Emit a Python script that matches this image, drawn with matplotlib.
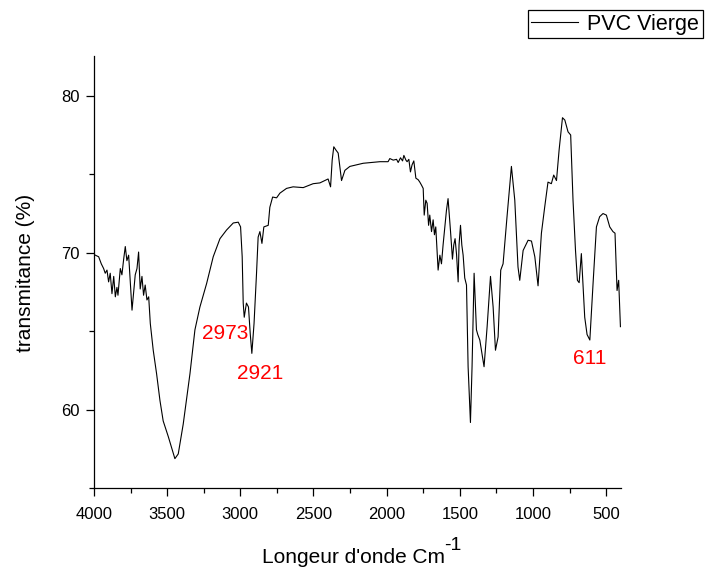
import matplotlib
matplotlib.use("Agg")
import matplotlib.pyplot as plt
from matplotlib.ticker import MultipleLocator

plt.rcParams['font.family'] = ['Liberation Sans', 'DejaVu Sans']

# spectrum: wavenumber (cm-1) and transmittance (%)
wavenumber = [
    4000, 3991, 3968, 3950, 3934, 3923, 3911, 3900, 3889, 3877, 3865, 3854,
    3843, 3836, 3820, 3809, 3797, 3786, 3775, 3763, 3752, 3740, 3729, 3718,
    3706, 3695, 3684, 3672, 3661, 3650, 3638, 3626, 3615, 3595, 3572, 3549,
    3527, 3492, 3447, 3424, 3390, 3344, 3310, 3276, 3230, 3185, 3139, 3094,
    3048, 3014, 2998, 2987, 2980, 2973, 2958, 2944, 2932, 2921, 2906, 2889,
    2878, 2866, 2852, 2839, 2809, 2798, 2779, 2752, 2729, 2684, 2639, 2570,
    2502, 2456, 2400, 2383, 2372, 2361, 2347, 2331, 2308, 2285, 2251, 2160,
    2046, 1990, 1978, 1955, 1932, 1921, 1905, 1891, 1882, 1868, 1860, 1848,
    1837, 1826, 1814, 1800, 1784, 1773, 1761, 1750, 1743, 1732, 1723, 1713,
    1705, 1693, 1682, 1673, 1664, 1648, 1636, 1625, 1614, 1591, 1580, 1573,
    1563, 1550, 1541, 1532, 1522, 1511, 1505, 1495, 1486, 1477, 1466, 1454,
    1443, 1427, 1416, 1402, 1386, 1377, 1363, 1334, 1313, 1290, 1272, 1256,
    1238, 1220, 1204, 1177, 1147, 1124, 1102, 1090, 1067, 1033, 1010, 987,
    965, 942, 919, 897, 874, 858, 839, 821, 798, 782, 760, 742, 726, 709,
    696, 684, 669, 646, 630, 611, 589, 566, 544, 521, 498, 475, 453, 439,
    425, 414, 402,
]
transmittance = [
    69.9, 69.85, 69.75, 69.3, 69.0, 68.7, 68.9, 68.15, 68.7, 67.4, 68.5, 67.2,
    67.8, 67.3, 69.0, 68.6, 69.6, 70.4, 69.5, 69.85, 68.15, 66.35, 67.5, 68.6,
    69.0, 70.05, 67.7, 68.5, 67.3, 67.95, 67.0, 67.2, 65.5, 63.8, 62.3, 60.6,
    59.3, 58.3, 56.9, 57.2, 59.1, 62.3, 65.1, 66.55, 68.05, 69.75, 70.9, 71.45,
    71.9, 71.95, 71.65, 69.75, 66.8, 65.9, 66.8, 66.55, 64.85, 63.6, 65.5, 68.7,
    71.0, 71.35, 70.6, 71.65, 71.75, 72.9, 73.55, 73.5, 73.8, 74.1, 74.2, 74.15,
    74.4, 74.45, 74.7, 74.2, 75.9, 76.75, 76.55, 76.35, 74.6, 75.25, 75.5, 75.7,
    75.8, 75.8, 76.0, 75.9, 75.95, 75.75, 76.05, 75.85, 76.2, 75.9, 75.8, 75.95,
    75.15, 75.6, 75.85, 74.75, 74.65, 74.5, 74.3, 74.1, 72.4, 73.35, 73.15, 71.75,
    72.4, 71.35, 72.1, 71.15, 71.65, 68.9, 69.85, 69.3, 70.5, 72.7, 73.45, 72.6,
    71.35, 69.6, 70.5, 70.9, 69.9, 68.15, 70.5, 71.75, 70.5, 69.85, 68.4, 67.95,
    62.75, 59.2, 62.75, 68.7, 65.1, 64.8, 64.45, 62.75, 65.3, 68.5, 66.55, 63.8,
    64.65, 68.9, 69.3, 72.3, 75.5, 73.35, 69.1, 68.25, 70.15, 70.8, 70.75, 69.75,
    67.9, 71.25, 72.95, 74.5, 74.4, 74.95, 74.6, 76.55, 78.6, 78.45, 77.7, 77.5, 73.35, 70.15,
    68.25, 68.1, 69.95, 65.9, 64.8, 64.45, 68.05, 71.65, 72.3, 72.5, 72.4, 71.65, 71.35, 71.25,
    67.6, 68.25, 65.3,
]

peak_labels = ['2973', '2921', '611']
peak_label_x = [3264, 3025, 728]
peak_label_y = [64.5, 62.0, 62.95]

fig = plt.figure(figsize=(7.06, 5.70), dpi=100)
ax = fig.add_axes([0.1331, 0.143, 0.7461, 0.758])

ax.plot(wavenumber, transmittance, color='black', lw=0.8, label='PVC Vierge')

for txt, px, py in zip(peak_labels, peak_label_x, peak_label_y):
    ax.text(px, py, txt, color='red', fontsize=15, ha='left', va='baseline')

ax.set_xlim(4000, 400)
ax.set_ylim(55, 82.5)
ax.xaxis.set_major_locator(MultipleLocator(500))
ax.xaxis.set_minor_locator(MultipleLocator(250))
ax.yaxis.set_major_locator(MultipleLocator(10))
ax.yaxis.set_minor_locator(MultipleLocator(5))

ax.spines['top'].set_visible(False)
ax.spines['right'].set_visible(False)
for s in ('left', 'bottom'):
    ax.spines[s].set_linewidth(0.9)

ax.tick_params(which='both', direction='out', width=0.9)
ax.tick_params(which='major', length=6)
ax.tick_params(which='minor', length=3.6)
ax.tick_params(axis='x', which='major', labelsize=12, pad=7)
ax.tick_params(axis='y', which='major', labelsize=12, pad=4)

ax.set_ylabel('transmitance (%)', fontsize=15, labelpad=19)

# x label with a full-size raised "-1", as in the original
fig.text(445 / 706, (570 - 563) / 570, "Longeur d'onde Cm", fontsize=15,
         ha='right', va='baseline')
fig.text(444 / 706, (570 - 550) / 570, "-1", fontsize=14,
         ha='left', va='baseline')

leg = fig.legend(loc='upper right', bbox_to_anchor=(703 / 706, 1 - 10 / 570),
                 fontsize=15.5, frameon=True, fancybox=False, framealpha=1,
                 edgecolor='black', borderpad=0.17, borderaxespad=0,
                 handlelength=2.15, handletextpad=0.45)
leg.get_frame().set_linewidth(0.9)

fig.savefig('out.png', dpi=100)
